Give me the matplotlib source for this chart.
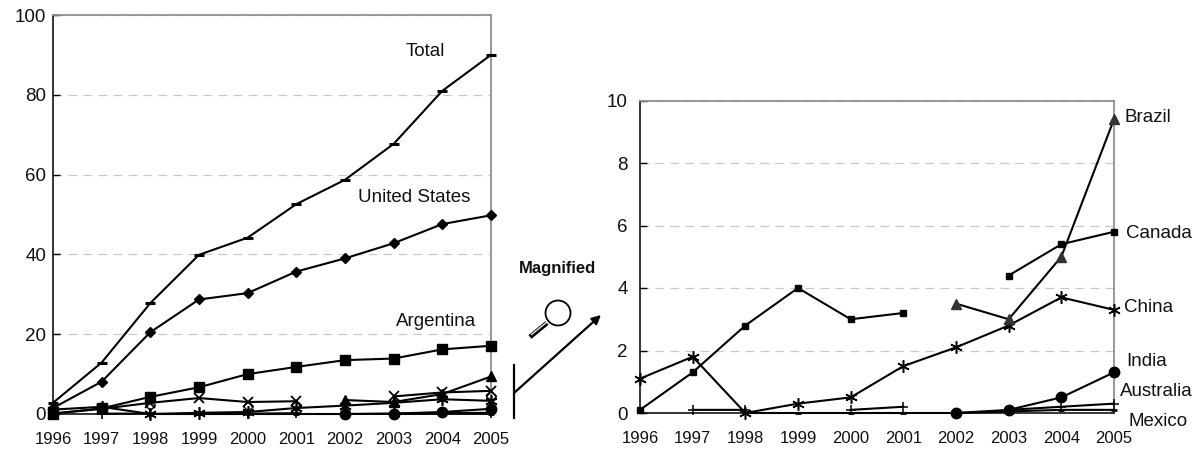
import matplotlib
matplotlib.use("Agg")
import matplotlib.pyplot as plt
import numpy as np
from matplotlib.lines import Line2D
from matplotlib.patches import Circle, FancyArrowPatch
from matplotlib.transforms import IdentityTransform

plt.rcParams['font.family'] = ['Liberation Sans', 'DejaVu Sans']

W, H = 1204, 450
nan = np.nan

years = list(range(1996, 2006))
total = [2.8, 12.9, 27.8, 39.9, 44.2, 52.6, 58.7, 67.7, 81.0, 90.0]
usa = [1.5, 8.1, 20.5, 28.7, 30.3, 35.7, 39.0, 42.8, 47.6, 49.8]
argentina = [0.1, 1.4, 4.3, 6.7, 10.0, 11.8, 13.5, 13.9, 16.2, 17.1]
canada = [0.1, 1.3, 2.8, 4.0, 3.0, 3.2, nan, 4.4, 5.4, 5.8]
china = [1.1, 1.8, 0.0, 0.3, 0.5, 1.5, 2.1, 2.8, 3.7, 3.3]
brazil = [nan, nan, nan, nan, nan, nan, 3.5, 3.0, 5.0, 9.4]
india = [nan, nan, nan, nan, nan, nan, 0.0, 0.1, 0.5, 1.3]
australia = [nan, 0.1, 0.1, nan, 0.1, 0.2, nan, 0.1, 0.2, 0.3]
mexico = [nan, nan, 0.0, 0.0, 0.0, 0.0, 0.0, 0.05, 0.1, 0.1]
others = [nan, nan, 2.2, nan, 2.0, 2.2, nan, nan, nan, 4.5]

ASTER = (6, 2, 0)


def make_axes(fig, x0, x1, ytop, ybot, ypad):
    ax = fig.add_axes([x0 / W, 1 - ybot / H, (x1 - x0) / W, (ybot - ytop) / H])
    ax.set_xlim(1996, 2005)
    for side in ['top', 'right']:
        ax.spines[side].set_color('#909090')
        ax.spines[side].set_linewidth(1.3)
    for side in ['left', 'bottom']:
        ax.spines[side].set_color('black')
        ax.spines[side].set_linewidth(1.1)
    ax.yaxis.grid(True, color='#c8c8c8', linestyle=(0, (7, 5)), linewidth=0.9)
    ax.set_axisbelow(True)
    ax.set_xticks(years)
    ax.tick_params(axis='x', length=0, labelsize=12, pad=13, labelcolor='#111111')
    ax.tick_params(axis='y', direction='in', length=5, width=1, labelsize=13.5, pad=ypad,
                   labelcolor='#111111')
    return ax


def series(ax, values, marker, ms, mew=1.0, **kw):
    ax.plot(years, values, color='black', lw=1.5, marker=marker, ms=ms, mew=mew,
            clip_on=False, zorder=3, **kw)


def fig_text(x, y, s, **kw):
    fig.text(x / W, 1 - y / H, s, va='center', color='#111111', **kw)


fig = plt.figure(figsize=(W / 100, H / 100), dpi=100)

# left panel
ax1 = make_axes(fig, 53, 491, 15, 414, 5)
ax1.set_ylim(0, 100)
ax1.set_yticks([0, 20, 40, 60, 80, 100])
ax1.plot(years, others, ls='none', marker='D', ms=5, mfc='white', mec='black', mew=1,
         clip_on=False, zorder=2)
series(ax1, total, '_', 7, mew=2.2)
series(ax1, usa, 'D', 5.5)
series(ax1, canada, 'x', 7.5, mew=1.3)
series(ax1, china, ASTER, 9, mew=1.2)
series(ax1, mexico, '_', 5, mew=2)
series(ax1, australia, '+', 7.5, mew=1.2)
series(ax1, india, 'o', 7.5)
series(ax1, brazil, '^', 7.5)
series(ax1, argentina, 's', 7)

# right panel
ax2 = make_axes(fig, 640, 1114, 100.5, 413, 9)
ax2.set_ylim(0, 10)
ax2.set_yticks([0, 2, 4, 6, 8, 10])
series(ax2, canada, 's', 4.8)
series(ax2, china, ASTER, 9, mew=1.1)
series(ax2, mexico, '_', 5, mew=2)
series(ax2, australia, '+', 7.5, mew=1.1)
series(ax2, india, 'o', 7.5)
ax2.plot(years, brazil, color='black', lw=1.5, marker='^', ms=7, mfc='#333333',
         mec='#333333', clip_on=False, zorder=3)

# series labels
for x, y, s in [(425, 52, 'Total'), (414, 198, 'United States'), (436, 322, 'Argentina')]:
    fig_text(x, y, s, ha='center', fontsize=13.5)
for x, y, s in [(1124, 117, 'Brazil'), (1126, 233, 'Canada'), (1124, 308, 'China'),
                (1126, 361, 'India'), (1120, 392, 'Australia'), (1129, 421, 'Mexico')]:
    fig_text(x, y, s, ha='left', fontsize=13.5)
fig_text(557, 269, 'Magnified', ha='center', fontsize=12, fontweight='bold')


# magnifier and arrow, drawn in pixel coordinates of the figure
def pts(x, y):
    return (x / W, 1 - y / H)


fig.add_artist(Line2D([514 / W, 514 / W], [1 - 365 / H, 1 - 418 / H], color='black', lw=1.6))
fig.add_artist(FancyArrowPatch(pts(514, 393), pts(601, 315), transform=fig.transFigure,
                               arrowstyle='-|>', mutation_scale=13, color='black', lw=1.6,
                               shrinkA=0, shrinkB=0))
fig.add_artist(Line2D([547 / W, 530 / W], [1 - 323 / H, 1 - 337 / H], color='black', lw=3.4,
                      solid_capstyle='butt'))
fig.add_artist(Line2D([547 / W, 531 / W], [1 - 322 / H, 1 - 335 / H], color='white', lw=0.9,
                      solid_capstyle='butt'))
lens = Circle((558, H - 313), 12.5, fc='white', ec='black', lw=1.3)
lens.set_transform(IdentityTransform())
fig.add_artist(lens)

fig.savefig('out.png', dpi=100)
